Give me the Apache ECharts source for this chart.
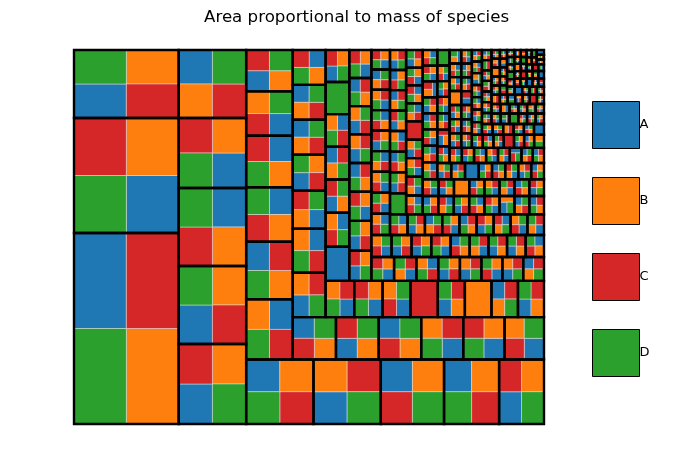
<!DOCTYPE html>
<html>
<head>
    <meta charset="UTF-8">
    <title>Area proportional to mass of species</title>
    <script src="https://cdn.jsdelivr.net/npm/echarts@6/dist/echarts.min.js"></script>
    <style>
        html, body { margin: 0; padding: 0; background: #fff; }
        #chart { width: 679px; height: 476px; }
    </style>
</head>
<body>
<div id="chart"></div>
<script type="text/javascript">
    var speciesNames = ['A', 'B', 'C', 'D'];

    // mass of each group (largest groups first)
    var headMass = [
        19864, 11960, 7072,
        5360, 5226, 5226, 4690, 4556,
        4311, 4311, 4049, 3527, 2874,
        2788, 2661, 2521, 2381, 2054, 1914,
        1820, 1800, 1790, 1770, 1740, 1660,
        1450, 1441, 1240, 1173, 1139, 1139, 1139,
        1030, 1020, 1004, 984, 973, 958, 953, 937,
        804, 799, 784, 774, 764, 755, 754,
        660, 655, 640, 630, 625, 620, 615, 615,
        540, 530, 520, 515, 510, 500, 495, 494,
        440, 435, 430, 420, 415, 410, 405, 405, 400,
        395, 390, 385, 382, 380, 378, 376, 374
    ];
    // species in each group: bottom-left, bottom-right, top-left, top-right
    var headSpecies = [
        'DBAC', 'DACB', 'ACDB',
        'ADCB', 'ACDB', 'CBDA', 'DACB', 'BCAD',
        'DCAB', 'ADBC', 'CDAB', 'DCAB', 'ADCB',
        'DCBA', 'DBAC', 'CBDA', 'DBCA', 'CABD', 'ABCD',
        'CBAD', 'ABCD', 'CBAD', 'DABC', 'DACB', 'CABD',
        'ADBC', 'DCBA', 'BACD', 'ACDB', 'BCAD', 'BCAD', 'DBCA',
        'DABC', 'DACB', 'CABD', 'C', 'ABDC', 'B', 'BDAC', 'ABDC',
        'A', 'CDBA', 'ABCD', 'BDAC', 'DCBA', 'D', 'ADCB',
        'ADCB', 'ACDB', 'DACB', 'DBAC', 'ADBC', 'ACBD', 'DBAC', 'DACB',
        'DACB', 'BADC', 'DCBA', 'ACDB', 'ADBC', 'CADB', 'ADBC', 'BDAC',
        'CABD', 'ACDB', 'ADCB', 'DACB', 'CBAD', 'BADC', 'ABDC', 'ABDC', 'CBDA',
        'CDBA', 'CADB', 'CABD', 'BCDA', 'ADCB', 'CBDA', 'DABC', 'BCAD'
    ];
    var tailMass = [
        362, 360, 357, 355, 353, 352, 350, 348, 346,
        340, 337, 335, 333, 330, 328, 326, 323, 320,
        312, 309, 306, 304, 301, 298, 296, 293, 290,
        284, 282, 279, 277, 275, 272, 270, 267, 265,
        258, 256, 254, 252, 250, 248, 246, 244, 242,
        236, 234, 232, 230, 228, 226, 224, 222, 220,
        214, 212, 210, 208, 206, 204, 202, 200, 198,
        192, 190, 188, 186, 184, 182, 180, 178, 176,
        171, 169, 168, 166, 165, 163, 161, 159, 157,
        152, 150, 149, 147, 146, 144, 143, 141, 139,
        134, 133, 131, 130, 128, 127, 126, 124, 122,
        118, 117, 115, 114, 113, 111, 110, 108, 107,
        104, 103, 101, 100, 99, 97, 96, 95, 93,
        91, 90, 89, 87, 86, 85, 84, 83, 81,
        79, 78, 77, 76, 75, 74, 73, 72, 71,
        69, 68, 67, 66, 65, 64, 63, 62, 61,
        60, 59, 58, 57, 56, 55, 54, 53, 52,
        51, 50, 50, 49, 48, 47, 47, 46, 45,
        44, 44, 43, 42, 42, 41, 40, 40, 39,
        38, 38, 37, 37, 36, 36, 35, 35, 34
    ];
    var tailSpecies = [
        'DACB', 'CBDA', 'ABDC', 'BCAD', 'CADB', 'DBAC', 'ADCB', 'BDCA', 'CABD',
        'BADC', 'D', 'ACDB', 'CBAD', 'DCBA', 'ABCD', 'BDAC', 'CDAB', 'ADBC',
        'CDBA', 'BACD', 'DABC', 'ACBD', 'C', 'BCDA', 'DBCA', 'CADB', 'ABDC',
        'DCAB', 'BDCA', 'ACDB', 'CBDA', 'DACB', 'ADB', 'BCAD', 'DBAC', 'CABD',
        'ABCD', 'B', 'CDAB', 'DABC', 'BADC', 'CBAD', 'ADCB', 'DCBA', 'BCDA',
        'CADB', 'DBAC', 'ABDC', 'BCA', 'DACB', 'CDBA', 'ACBD', 'BDAC', 'A',
        'DCAB', 'CBAD', 'BACD', 'ADBC', 'CDAB', 'DBCA', 'ABC', 'BCDA', 'DACB',
        'ACDB', 'CABD', 'D', 'BDCA', 'ADCB', 'CBDA', 'DABC', 'BADC', 'CDA',
        'BCAD', 'DBAC', 'ACBD', 'CADB', 'ABCD', 'B', 'DCBA', 'CDBA', 'BDA',
        'ADBC', 'CBAD', 'DACB', 'AC', 'BCDA', 'DCAB', 'CABD', 'ABDC', 'DBCA',
        'BADC', 'C', 'ACDB', 'CDAB', 'DB', 'BACD', 'ADCB', 'CBDA', 'DABC',
        'ABD', 'DCBA', 'BDAC', 'CADB', 'ACBD', 'BC', 'DACB', 'CBAD', 'A',
        'BCDA', 'ADBC', 'DBCA', 'CDB', 'ABCD', 'DC', 'BCAD', 'CABD', 'ADC',
        'D', 'BDCA', 'CDAB', 'ACDB', 'DABC', 'BA', 'CBDA', 'ABDC', 'DBA',
        'CADB', 'BC', 'ADCB', 'DCAB', 'B', 'CBA', 'ABCD', 'BDAC', 'DA',
        'ACB', 'DCBA', 'C', 'BADC', 'CD', 'ADBC', 'DBAC', 'AB', 'CBDA',
        'BDA', 'A', 'CABD', 'DC', 'ABDC', 'BCA', 'D', 'CDBA', 'AD',
        'BCAD', 'CB', 'DAB', 'A', 'BDCA', 'AC', 'CDAB', 'B', 'DACB',
        'AB', 'C', 'DBC', 'BD', 'A', 'CAD', 'D', 'BC', 'ADC',
        'C', 'DA', 'B', 'ACD', 'CB', 'D', 'AB', 'BDC', 'A'
    ];

    // squarify, same rules as the python squarify package (y grows upwards)
    var W = 150, H = 100;

    function sum(a) {
        var s = 0;
        for (var i = 0; i < a.length; i++) s += a[i];
        return s;
    }
    function layout(sizes, x, y, dx, dy) {
        var rects = [], covered = sum(sizes), k;
        if (dx >= dy) {
            var w = covered / dy;
            for (k = 0; k < sizes.length; k++) {
                rects.push({x: x, y: y, dx: w, dy: sizes[k] / w});
                y += sizes[k] / w;
            }
        } else {
            var h = covered / dx;
            for (k = 0; k < sizes.length; k++) {
                rects.push({x: x, y: y, dx: sizes[k] / h, dy: h});
                x += sizes[k] / h;
            }
        }
        return rects;
    }
    function leftover(sizes, x, y, dx, dy) {
        var covered = sum(sizes);
        if (dx >= dy) {
            var w = covered / dy;
            return [x + w, y, dx - w, dy];
        }
        var h = covered / dx;
        return [x, y + h, dx, dy - h];
    }
    function worst(sizes, x, y, dx, dy) {
        var r = layout(sizes, x, y, dx, dy), m = 0;
        r.forEach(function (q) { m = Math.max(m, q.dx / q.dy, q.dy / q.dx); });
        return m;
    }
    function squarify(values, x, y, dx, dy) {
        var tot = sum(values);
        var sizes = values.map(function (v) { return v * dx * dy / tot; });
        var out = [];
        while (sizes.length) {
            var i = 1;
            while (i < sizes.length && worst(sizes.slice(0, i), x, y, dx, dy) >= worst(sizes.slice(0, i + 1), x, y, dx, dy)) {
                i++;
            }
            var cur = sizes.slice(0, i);
            out = out.concat(layout(cur, x, y, dx, dy));
            var lo = leftover(cur, x, y, dx, dy);
            x = lo[0]; y = lo[1]; dx = lo[2]; dy = lo[3];
            sizes = sizes.slice(i);
        }
        return out;
    }

    var groupMass = headMass.concat(tailMass);
    var groupSpecies = headSpecies.concat(tailSpecies);
    var groups = squarify(groupMass, 0, 0, W, H);

    var cellData = [[], [], [], []];
    var borderData = [];
    groups.forEach(function (g, gi) {
        var s = groupSpecies[gi].split('');
        // 2x2 groups are given by position, turn that into layout order
        if (s.length === 4 && g.dx >= g.dy) s = [s[0], s[2], s[1], s[3]];
        var cells = squarify(s.map(function () { return 1; }), g.x, g.y, g.dx, g.dy);
        cells.forEach(function (c, ci) {
            cellData[speciesNames.indexOf(s[ci])].push([c.x, c.y, c.x + c.dx, c.y + c.dy]);
        });
        borderData.push([g.x, g.y, g.x + g.dx, g.y + g.dy]);
    });

    function rectItem(api, style) {
        var a = api.coord([api.value(0), api.value(3)]);
        var b = api.coord([api.value(2), api.value(1)]);
        return {
            type: 'rect',
            shape: {x: a[0], y: a[1], width: b[0] - a[0], height: b[1] - a[1]},
            style: style
        };
    }

    var colors = ['#1f77b4', '#ff7f0e', '#d62728', '#2ca02c'];
    var series = speciesNames.map(function (name, i) {
        return {
            name: name,
            type: 'custom',
            data: cellData[i],
            encode: {x: [0, 2], y: [1, 3]},
            itemStyle: {color: colors[i]},
            clip: false,
            renderItem: function (params, api) {
                return rectItem(api, {fill: colors[i], stroke: 'rgba(230,230,230,0.8)', lineWidth: 0.6});
            }
        };
    });
    series.push({
        type: 'custom',
        data: borderData,
        encode: {x: [0, 2], y: [1, 3]},
        z: 5,
        clip: false,
        silent: true,
        renderItem: function (params, api) {
            return rectItem(api, {fill: 'none', stroke: '#000', lineWidth: 2.4});
        }
    });

    var chart = echarts.init(document.getElementById('chart'));
    var option = {
        animation: false,
        backgroundColor: '#fff',
        title: {
            text: 'Area proportional to mass of species',
            left: 204,
            top: 9,
            padding: 0,
            textStyle: {fontFamily: 'DejaVu Sans', fontSize: 16.67, fontWeight: 'normal', color: '#000'}
        },
        legend: {
            data: speciesNames,
            orient: 'vertical',
            left: 592,
            top: 101,
            padding: 0,
            itemWidth: 47,
            itemHeight: 47,
            itemGap: 28,
            icon: 'rect',
            selectedMode: false,
            itemStyle: {borderColor: '#000', borderWidth: 1},
            textStyle: {fontFamily: 'DejaVu Sans', fontSize: 13, color: '#000', padding: [0, 0, 0, -5]}
        },
        grid: {left: 74, top: 50, width: 470, height: 374},
        xAxis: {type: 'value', min: 0, max: W, show: false},
        yAxis: {type: 'value', min: 0, max: H, show: false},
        series: series
    };
    chart.setOption(option);
</script>
</body>
</html>
